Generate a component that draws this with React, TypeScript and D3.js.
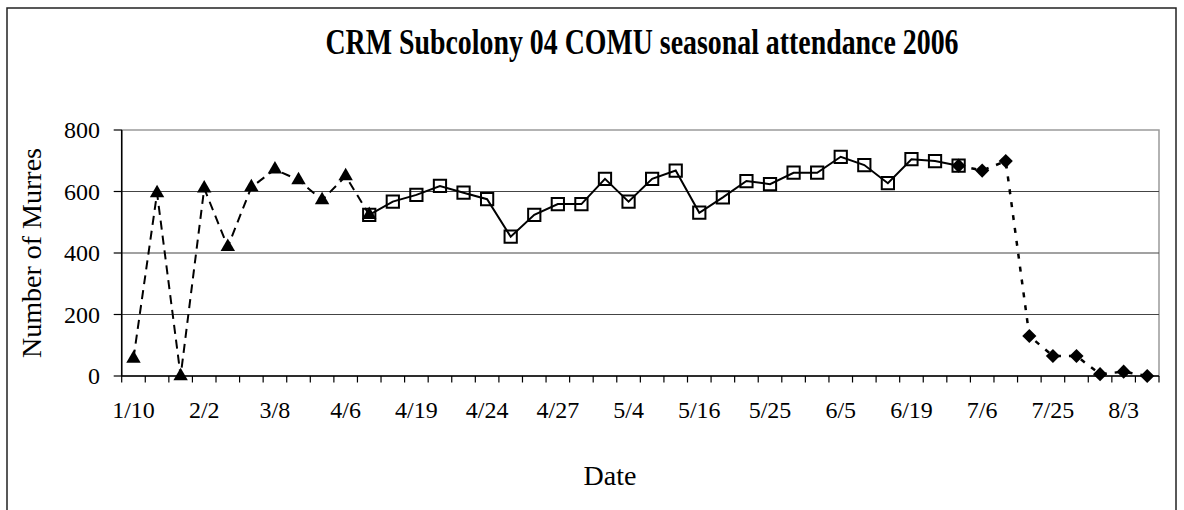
import React from "react";
import * as d3 from "d3";

const title = "CRM Subcolony 04 COMU seasonal attendance 2006";
const yTitle = "Number of Murres";
const xTitle = "Date";

const categoryCount = 44;
const labelEvery = 3;
const dateLabels = ["1/10", "2/2", "3/8", "4/6", "4/19", "4/24", "4/27", "5/4", "5/16", "5/25", "6/5", "6/19", "7/6", "7/25", "8/3"];
const yTicks = [0, 200, 400, 600, 800];

const triangleStart = 0;
const triangleValues = [57, 595, 0, 610, 420, 614, 672, 637, 572, 650, 524];

const squareStart = 10;
const squareValues = [524, 567, 589, 618, 596, 575, 453, 524, 559, 559, 641, 567, 641, 668, 531, 581, 634, 624, 661, 661, 713, 686, 627, 705, 699, 684];

const diamondStart = 35;
const diamondValues = [684, 668, 699, 130, 65, 65, 6, 14, 0];

const W = 1184;
const H = 510;
const plot = { left: 121.7, right: 1159, top: 130, bottom: 376 };
const font = "'Liberation Serif', 'Times New Roman', serif";

export default function App() {
  const x = d3.scaleLinear().domain([0, categoryCount]).range([plot.left, plot.right]);
  const cx = (i: number) => x(i + 0.5);
  const y = d3.scaleLinear().domain([0, 800]).range([plot.bottom, plot.top]);

  const toPts = (start: number, vals: number[]) => vals.map((v, k) => ({ i: start + k, v }));
  const tri = toPts(triangleStart, triangleValues);
  const sq = toPts(squareStart, squareValues);
  const dia = toPts(diamondStart, diamondValues);

  const line = d3
    .line<{ i: number; v: number }>()
    .x((d) => cx(d.i))
    .y((d) => y(d.v));

  const triSym = d3.symbol().type(d3.symbolTriangle).size(90)()!;
  const sqSym = d3.symbol().type(d3.symbolSquare).size(150)()!;
  const diaSym = d3.symbol().type(d3.symbolSquare).size(100)()!;

  const tickIdx = d3.range(categoryCount + 1);

  return (
    <svg width={W} height={H} style={{ position: "absolute", left: 0, top: 0, background: "#fff" }} fontFamily={font}>
      <rect x={0} y={0} width={W} height={H} fill="#fff" />
      <rect x={7} y={8} width={1169} height={H + 20} fill="none" stroke="#222" strokeWidth={1.5} />
      <text
        x={642}
        y={54}
        textAnchor="middle"
        fontSize={36}
        fontWeight="bold"
        textLength={633}
        lengthAdjust="spacingAndGlyphs"
      >
        {title}
      </text>

      {/* plot border */}
      <rect
        x={plot.left}
        y={plot.top}
        width={plot.right - plot.left}
        height={plot.bottom - plot.top}
        fill="none"
        stroke="#9a9a9a"
        strokeWidth={1.5}
      />
      {/* gridlines */}
      {yTicks
        .filter((t) => t > 0 && t < 800)
        .map((t) => (
          <line key={t} x1={plot.left} x2={plot.right} y1={y(t)} y2={y(t)} stroke="#444" strokeWidth={1.1} />
        ))}
      {/* y axis */}
      <line x1={plot.left} x2={plot.left} y1={plot.top} y2={plot.bottom} stroke="#000" strokeWidth={1.5} />
      {yTicks.map((t) => (
        <g key={t}>
          <line x1={plot.left - 8} x2={plot.left} y1={y(t)} y2={y(t)} stroke="#000" strokeWidth={1.2} />
          <text x={100} y={y(t)} dy="0.34em" textAnchor="end" fontSize={24}>
            {t}
          </text>
        </g>
      ))}
      {/* x axis */}
      <line x1={plot.left} x2={plot.right} y1={plot.bottom} y2={plot.bottom} stroke="#000" strokeWidth={1.5} />
      {tickIdx.map((i) => (
        <line key={i} x1={x(i)} x2={x(i)} y1={plot.bottom} y2={plot.bottom + 6.5} stroke="#000" strokeWidth={1.2} />
      ))}
      {dateLabels.map((lab, k) => (
        <text key={lab} x={cx(k * labelEvery)} y={418} textAnchor="middle" fontSize={24}>
          {lab}
        </text>
      ))}

      <text x={610} y={485} textAnchor="middle" fontSize={28}>
        {xTitle}
      </text>
      <text transform={`translate(41, ${(plot.top + plot.bottom) / 2}) rotate(-90)`} textAnchor="middle" fontSize={28}>
        {yTitle}
      </text>

      {/* triangle series */}
      <path d={line(tri)!} fill="none" stroke="#000" strokeWidth={2} strokeDasharray="9,6" />
      {tri.map((d) => (
        <path key={d.i} d={triSym} transform={`translate(${cx(d.i)},${y(d.v)})`} fill="#000" />
      ))}

      {/* square series */}
      <path d={line(sq)!} fill="none" stroke="#000" strokeWidth={2} />
      {sq.map((d) => (
        <path key={d.i} d={sqSym} transform={`translate(${cx(d.i)},${y(d.v)})`} fill="none" stroke="#000" strokeWidth={2} />
      ))}

      {/* diamond series */}
      <path d={line(dia)!} fill="none" stroke="#000" strokeWidth={2.5} strokeDasharray="5,8" />
      {dia.map((d) => (
        <path key={d.i} d={diaSym} transform={`translate(${cx(d.i)},${y(d.v)}) rotate(45)`} fill="#000" />
      ))}
    </svg>
  );
}
